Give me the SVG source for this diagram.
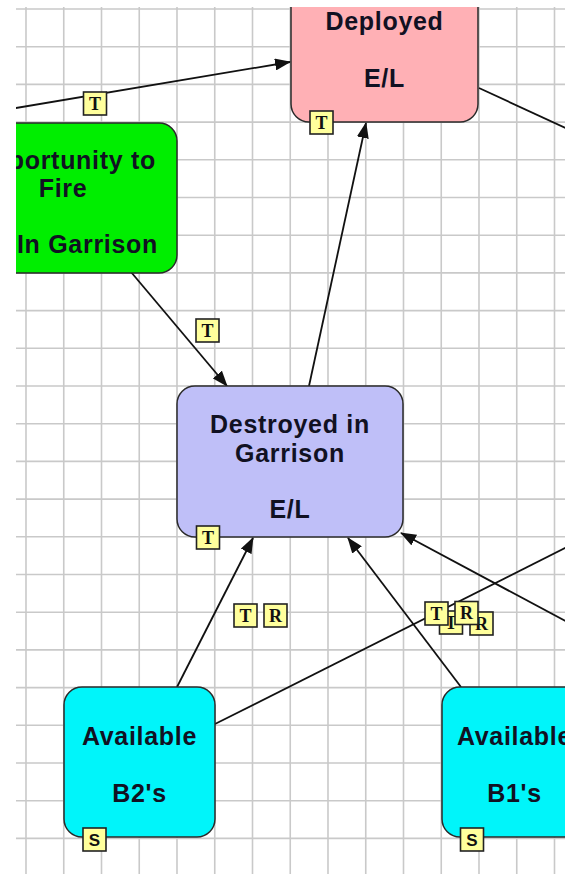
<svg xmlns="http://www.w3.org/2000/svg" width="565" height="874" viewBox="0 0 565 874">
<style>
.grid line{stroke:#c9c9c9;stroke-width:1.6}
.node rect{stroke:#2a2a2a;stroke-width:1.5}
.node text{font-family:"Liberation Sans",Arial,sans-serif;font-weight:bold;font-size:25px;letter-spacing:0.7px;fill:#111122;text-anchor:middle}
.conn line{stroke:#111;stroke-width:1.8;fill:none}
.badge rect{fill:#ffff9c;stroke:#222;stroke-width:1.6}
.badge text{font-family:"Liberation Serif","Times New Roman",serif;font-weight:bold;font-size:18px;fill:#111;text-anchor:middle}
.badge text.s{font-family:"Liberation Sans",Arial,sans-serif;font-size:17px}
</style>
<defs>
<clipPath id="vp"><rect x="16" y="7" width="549" height="867"/></clipPath>
<marker id="ah" viewBox="0 0 16 12" refX="15" refY="6" markerWidth="16" markerHeight="12" markerUnits="userSpaceOnUse" orient="auto">
<path d="M0,0 L16,6 L0,12 Z" fill="#111"/>
</marker>
</defs>
<rect width="565" height="874" fill="#fff"/>
<g clip-path="url(#vp)">
<g class="grid">
<line x1="26" y1="0" x2="26" y2="874"/><line x1="63.75" y1="0" x2="63.75" y2="874"/><line x1="101.5" y1="0" x2="101.5" y2="874"/><line x1="139.25" y1="0" x2="139.25" y2="874"/><line x1="177" y1="0" x2="177" y2="874"/><line x1="214.75" y1="0" x2="214.75" y2="874"/><line x1="252.5" y1="0" x2="252.5" y2="874"/><line x1="290.25" y1="0" x2="290.25" y2="874"/><line x1="328" y1="0" x2="328" y2="874"/><line x1="365.75" y1="0" x2="365.75" y2="874"/><line x1="403.5" y1="0" x2="403.5" y2="874"/><line x1="441.25" y1="0" x2="441.25" y2="874"/><line x1="479" y1="0" x2="479" y2="874"/><line x1="516.75" y1="0" x2="516.75" y2="874"/><line x1="554.5" y1="0" x2="554.5" y2="874"/>
<line x1="0" y1="9" x2="565" y2="9"/><line x1="0" y1="46.7" x2="565" y2="46.7"/><line x1="0" y1="84.4" x2="565" y2="84.4"/><line x1="0" y1="122.1" x2="565" y2="122.1"/><line x1="0" y1="159.8" x2="565" y2="159.8"/><line x1="0" y1="197.5" x2="565" y2="197.5"/><line x1="0" y1="235.2" x2="565" y2="235.2"/><line x1="0" y1="272.9" x2="565" y2="272.9"/><line x1="0" y1="310.6" x2="565" y2="310.6"/><line x1="0" y1="348.3" x2="565" y2="348.3"/><line x1="0" y1="386" x2="565" y2="386"/><line x1="0" y1="423.7" x2="565" y2="423.7"/><line x1="0" y1="461.4" x2="565" y2="461.4"/><line x1="0" y1="499.1" x2="565" y2="499.1"/><line x1="0" y1="536.8" x2="565" y2="536.8"/><line x1="0" y1="574.5" x2="565" y2="574.5"/><line x1="0" y1="612.2" x2="565" y2="612.2"/><line x1="0" y1="649.9" x2="565" y2="649.9"/><line x1="0" y1="687.6" x2="565" y2="687.6"/><line x1="0" y1="725.3" x2="565" y2="725.3"/><line x1="0" y1="763" x2="565" y2="763"/><line x1="0" y1="800.7" x2="565" y2="800.7"/><line x1="0" y1="838.4" x2="565" y2="838.4"/>
</g>
<g id="connectors" class="conn">
<line x1="10" y1="109" x2="290" y2="62" marker-end="url(#ah)"/>
<line x1="479" y1="88" x2="570" y2="130"/>
<line x1="131" y1="272" x2="227" y2="386" marker-end="url(#ah)"/>
<line x1="309" y1="386" x2="366" y2="123" marker-end="url(#ah)"/>
<line x1="177" y1="687" x2="253" y2="538" marker-end="url(#ah)"/>
<line x1="215" y1="724" x2="570" y2="545.5"/>
<line x1="461" y1="687" x2="348" y2="538" marker-end="url(#ah)"/>
<line x1="570" y1="623.5" x2="401" y2="533" marker-end="url(#ah)"/>
</g>
<g id="deployed" class="node">
<rect x="291" y="-30" width="187" height="152" rx="18" fill="#ffb0b5"/>
<text x="384.5" y="30">Deployed</text>
<text x="384.5" y="87">E/L</text>
</g>
<g id="opportunity" class="node">
<rect x="-60" y="123" width="237" height="150" rx="18" fill="#00ee00"/>
<text x="156" y="169" style="text-anchor:end">Opportunity to</text>
<text x="63" y="197">Fire</text>
<text x="158" y="253" style="text-anchor:end">In Garrison</text>
</g>
<g id="destroyed" class="node">
<rect x="177" y="386" width="226" height="151" rx="18" fill="#bfbff8"/>
<text x="290" y="433">Destroyed in</text>
<text x="290" y="462">Garrison</text>
<text x="290" y="518">E/L</text>
</g>
<g id="availableB2" class="node">
<rect x="64" y="687" width="151" height="150" rx="18" fill="#00f5fa"/>
<text x="139.5" y="745">Available</text>
<text x="139.5" y="802">B2's</text>
</g>
<g id="availableB1" class="node">
<rect x="442" y="687" width="151" height="150" rx="18" fill="#00f5fa"/>
<text x="514.5" y="745">Available</text>
<text x="514.5" y="802">B1's</text>
</g>
<g id="badges">
<g class="badge"><rect x="83.5" y="92" width="23" height="23"/><text x="95" y="109.5">T</text></g>
<g class="badge"><rect x="310" y="111" width="23" height="23"/><text x="321.5" y="128.5">T</text></g>
<g class="badge"><rect x="196" y="319" width="23" height="23"/><text x="207.5" y="336.5">T</text></g>
<g class="badge"><rect x="196.5" y="526" width="23" height="23"/><text x="208" y="543.5">T</text></g>
<g class="badge"><rect x="234" y="604" width="23" height="23"/><text x="245.5" y="621.5">T</text></g>
<g class="badge"><rect x="264" y="604" width="23" height="23"/><text x="275.5" y="621.5">R</text></g>
<g class="badge"><rect x="439.5" y="611" width="23" height="23"/><text x="451" y="628.5">T</text></g>
<g class="badge"><rect x="470" y="612" width="23" height="23"/><text x="481.5" y="629.5">R</text></g>
<g class="badge"><rect x="425" y="602" width="23" height="23"/><text x="436.5" y="619.5">T</text></g>
<g class="badge"><rect x="455" y="601.5" width="23" height="23"/><text x="466.5" y="619">R</text></g>
<g class="badge"><rect x="83" y="828" width="23" height="23"/><text class="s" x="94.5" y="845.5">S</text></g>
<g class="badge"><rect x="460.5" y="828" width="23" height="23"/><text class="s" x="472" y="845.5">S</text></g>
</g>
</g>
</svg>
